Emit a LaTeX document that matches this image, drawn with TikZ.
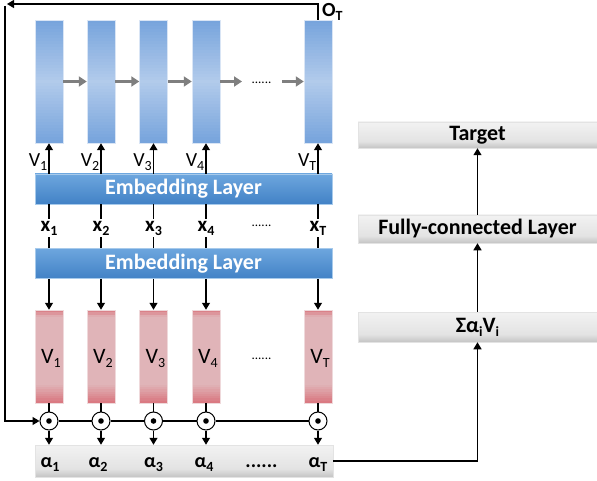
\documentclass[tikz,border=0pt]{standalone}
\usepackage{fontspec}
\setmainfont{Carlito}
\usetikzlibrary{arrows.meta}
\definecolor{bluecol}{HTML}{76A3DC}
\definecolor{bluemid}{HTML}{B2CBEB}
\definecolor{embtop}{HTML}{6DA6DE}
\definecolor{embbot}{HTML}{4282C6}
\definecolor{reddark}{HTML}{D9767E}
\definecolor{redmid}{HTML}{E0B4B8}
\definecolor{graytop}{HTML}{F2F2F2}
\definecolor{graymid}{HTML}{E3E3E3}
\definecolor{graybot}{HTML}{C4C4C4}
\definecolor{arrgray}{HTML}{7F7F7F}
\pgfdeclareverticalshading{grayshade}{100bp}{color(0bp)=(graybot); color(25bp)=(graybot); color(38bp)=(graymid); color(75bp)=(graytop); color(100bp)=(graytop)}
\newcommand\lsub[1]{\raisebox{-4pt}{\fontsize{14}{14}\selectfont #1}}
% vertical gradient fills drawn slice by slice (pixel coordinates)
\newcommand\bluecolfill[1]{%
  \foreach \i in {0,...,40}{
    \pgfmathsetmacro\ya{20+123*\i/41}
    \pgfmathsetmacro\yb{min(20+123*(\i+1.4)/41,143)}
    \pgfmathsetmacro\p{100*abs(2*(\i+0.5)/41-1)}
    \fill[bluecol!\p!bluemid] (#1-14,\ya) rectangle (#1+14,\yb);
  }}
\newcommand\redcolfill[1]{%
  \foreach \i in {0,...,40}{
    \pgfmathsetmacro\ya{310+93*\i/41}
    \pgfmathsetmacro\yb{min(310+93*(\i+1.4)/41,403)}
    \pgfmathsetmacro\t{(\i+0.5)/41}
    \pgfmathsetmacro\p{(\t<0.07) ? 100*(1-\t/0.07) : ((\t>0.8) ? 100*(\t-0.8)/0.2 : 0)}
    \fill[reddark!\p!redmid] (#1-14,\ya) rectangle (#1+14,\yb);
  }}
\begin{document}
\begin{tikzpicture}[x=1pt,y=-1pt,
  font=\fontsize{20}{24}\selectfont,
  bluecolumn/.style={draw=bluemid!50!white, line width=0.5pt, minimum width=28pt, minimum height=123pt, inner sep=0pt},
  redcolumn/.style={draw=redmid!50!white, line width=0.5pt, minimum width=28pt, minimum height=93pt, inner sep=0pt},
  emb/.style={draw=embtop!60!white, line width=0.5pt, minimum width=297pt, minimum height=30pt, inner sep=0pt, top color=embtop, bottom color=embbot, text=white, font=\fontsize{22}{24}\selectfont\bfseries},
  graybox/.style={draw=graymid, line width=0.5pt, inner sep=0pt, shading=grayshade, font=\fontsize{22}{24}\selectfont\bfseries},
  dotcirc/.style={circle, draw=black, line width=1pt, fill=white, minimum size=18pt, inner sep=0pt},
  lbl/.style={inner sep=0pt},
  arr/.style={line width=1.2pt, -{Triangle[length=7pt,width=8pt]}},
  ln/.style={line width=1.2pt},
  garr/.style={line width=3pt, draw=arrgray, -{Triangle[length=8pt,width=10pt]}}
]
\useasboundingbox (0,0) rectangle (597,481);

% top recurrent columns
\bluecolfill{49}\bluecolfill{101}\bluecolfill{153.5}\bluecolfill{206}\bluecolfill{318}
\node[bluecolumn] (b1) at (49,81.5) {};
\node[bluecolumn] (b2) at (101,81.5) {};
\node[bluecolumn] (b3) at (153.5,81.5) {};
\node[bluecolumn] (b4) at (206,81.5) {};
\node[bluecolumn] (bT) at (318,81.5) {};
\coordinate (g1) at (242,81.5);
\coordinate (g2) at (282,81.5);
\node[lbl, anchor=base, font=\fontsize{13}{13}\selectfont] (d1) at (261.5,84) {......};
\draw[garr] (b1.east) -- (b2.west);
\draw[garr] (b2.east) -- (b3.west);
\draw[garr] (b3.east) -- (b4.west);
\draw[garr] (b4.east) -- (g1);
\draw[garr] (g2) -- (bT.west);

\node[lbl, anchor=base west, font=\fontsize{20}{20}\selectfont\bfseries] (oT) at (322,16.5) {O\lsub{T}};

% embedding layers
\node[emb] (e1) at (183.5,189) {Embedding Layer};
\node[emb] (e2) at (183.5,263.5) {Embedding Layer};

% V labels (top)
\node[lbl, anchor=base east] (v1) at (47.5,167) {V\lsub{1}};
\node[lbl, anchor=base east] (v2) at (99.5,167) {V\lsub{2}};
\node[lbl, anchor=base east] (v3) at (152,167) {V\lsub{3}};
\node[lbl, anchor=base east] (v4) at (204.5,167) {V\lsub{4}};
\node[lbl, anchor=base east] (vT) at (316.5,167) {V\lsub{T}};

\foreach \c in {b1,b2,b3,b4,bT}{
  \draw[arr] (e1.north -| \c.south) -- (\c.south);
}

% x labels
\node[lbl, inner sep=2pt, font=\fontsize{21}{24}\selectfont\bfseries] (x1) at (49,228) {x\lsub{1}};
\node[lbl, inner sep=2pt, font=\fontsize{21}{24}\selectfont\bfseries] (x2) at (101,228) {x\lsub{2}};
\node[lbl, inner sep=2pt, font=\fontsize{21}{24}\selectfont\bfseries] (x3) at (153.5,228) {x\lsub{3}};
\node[lbl, inner sep=2pt, font=\fontsize{21}{24}\selectfont\bfseries] (x4) at (206,228) {x\lsub{4}};
\node[lbl, inner sep=2pt, font=\fontsize{21}{24}\selectfont\bfseries] (xT) at (318,228) {x\lsub{T}};
\node[lbl, anchor=base, font=\fontsize{13}{13}\selectfont] (d2) at (261.5,226) {......};
\foreach \x in {x1,x2,x3,x4,xT}{
  \draw[ln] (e1.south -| \x.north) -- (\x.north);
  \draw[ln] (\x.south) -- (e2.north -| \x.south);
}

% red columns
\redcolfill{49}\redcolfill{101}\redcolfill{153.5}\redcolfill{206}\redcolfill{318}
\node[redcolumn] (r1) at (49,356.5) {};
\node[redcolumn] (r2) at (101,356.5) {};
\node[redcolumn] (r3) at (153.5,356.5) {};
\node[redcolumn] (r4) at (206,356.5) {};
\node[redcolumn] (rT) at (318,356.5) {};
\node[lbl, anchor=base, font=\fontsize{22}{24}\selectfont] (w1) at (51,363) {V\lsub{1}};
\node[lbl, anchor=base, font=\fontsize{22}{24}\selectfont] (w2) at (103,363) {V\lsub{2}};
\node[lbl, anchor=base, font=\fontsize{22}{24}\selectfont] (w3) at (155.5,363) {V\lsub{3}};
\node[lbl, anchor=base, font=\fontsize{22}{24}\selectfont] (w4) at (208,363) {V\lsub{4}};
\node[lbl, anchor=base, font=\fontsize{22}{24}\selectfont] (wT) at (320,363) {V\lsub{T}};
\node[lbl, anchor=base, font=\fontsize{13}{13}\selectfont] (d3) at (261.5,359) {......};
\foreach \r in {r1,r2,r3,r4,rT}{
  \draw[arr] (e2.south -| \r.north) -- (\r.north);
}

% product circles
\node[dotcirc] (c1) at (49,421) {};
\node[dotcirc] (c2) at (101,421) {};
\node[dotcirc] (c3) at (153.5,421) {};
\node[dotcirc] (c4) at (206,421) {};
\node[dotcirc] (cT) at (318,421) {};
\foreach \c in {c1,c2,c3,c4,cT}{ \fill (\c) circle (2.8pt); }
\draw[ln] (r1.south) -- (c1.north);
\draw[ln] (r2.south) -- (c2.north);
\draw[ln] (r3.south) -- (c3.north);
\draw[ln] (r4.south) -- (c4.north);
\draw[ln] (rT.south) -- (cT.north);
\draw[ln] (c1.east) -- (c2.west);
\draw[ln] (c2.east) -- (c3.west);
\draw[ln] (c3.east) -- (c4.west);
\draw[ln] (c4.east) -- (cT.west);

% alpha box
\node[graybox, minimum width=298pt, minimum height=32pt] (al) at (184,461) {};
\foreach \c in {c1,c2,c3,c4,cT}{
  \draw[arr] (\c.south) -- (al.north -| \c.south);
}
\node[lbl, anchor=base, font=\fontsize{20}{24}\selectfont\bfseries] (a1) at (50,467) {α\lsub{1}};
\node[lbl, anchor=base, font=\fontsize{20}{24}\selectfont\bfseries] (a2) at (98,467) {α\lsub{2}};
\node[lbl, anchor=base, font=\fontsize{20}{24}\selectfont\bfseries] (a3) at (153.5,467) {α\lsub{3}};
\node[lbl, anchor=base, font=\fontsize{20}{24}\selectfont\bfseries] (a4) at (204,467) {α\lsub{4}};
\node[lbl, anchor=base, font=\fontsize{20}{24}\selectfont\bfseries] (aT) at (318,467) {α\lsub{T}};
\node[lbl, anchor=base, font=\fontsize{20}{24}\selectfont\bfseries] (d4) at (261.5,467) {......};

% feedback loop
\coordinate (fb1) at (7,4);
\coordinate (fb2) at (5,6);
\draw[arr] (bT.north) |- (fb1);
\draw[arr] (fb2) |- (c1.west);

% right column
\node[graybox, minimum width=239pt, minimum height=26pt] (tg) at (477.5,135) {Target};
\node[graybox, minimum width=239pt, minimum height=28pt] (fc) at (477.5,229) {Fully-connected Layer};
\node[graybox, minimum width=239pt, minimum height=30pt] (sg) at (477.5,327) {Σα\lsub{i}V\lsub{i}};
\draw[arr] (al.east) -| (sg.south);
\draw[arr] (sg.north) -- (fc.south);
\draw[arr] (fc.north) -- (tg.south);
\end{tikzpicture}
\end{document}
